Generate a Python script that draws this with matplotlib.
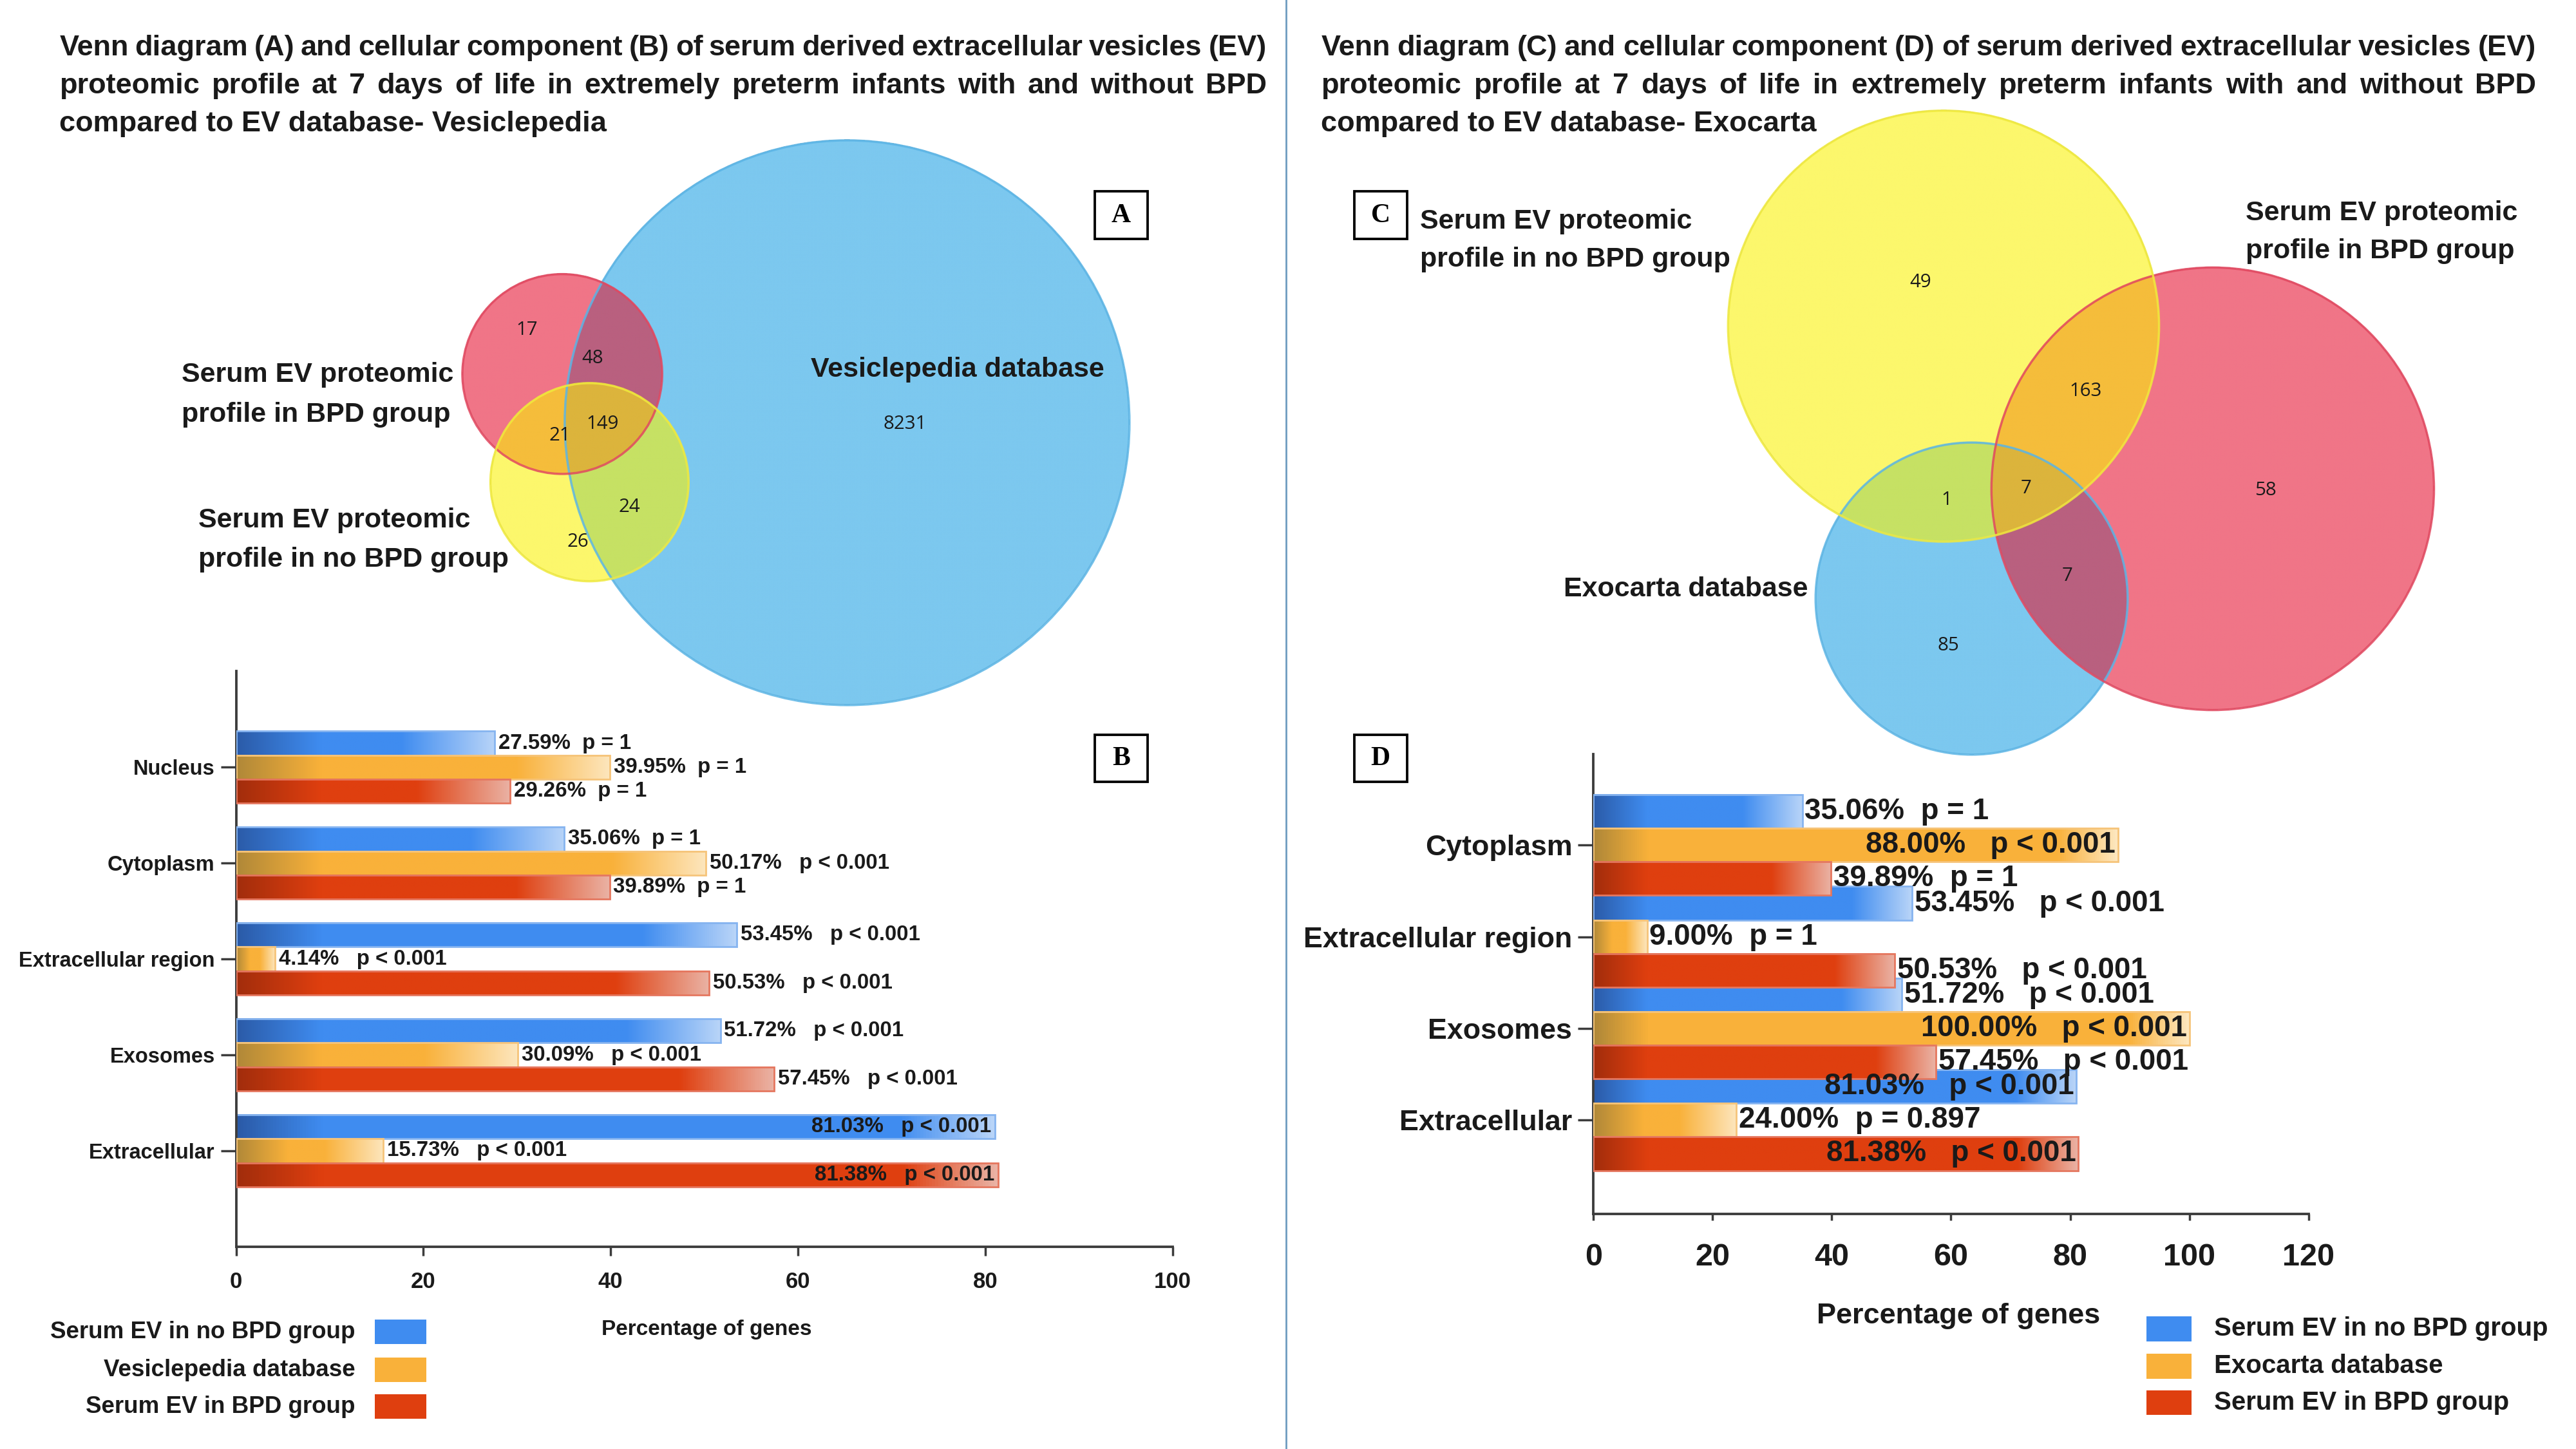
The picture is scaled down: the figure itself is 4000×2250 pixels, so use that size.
import numpy as np
import matplotlib
matplotlib.use("Agg")
import matplotlib.pyplot as plt
from matplotlib import font_manager
from matplotlib.colors import LinearSegmentedColormap, to_rgba
from matplotlib.patches import Circle, Rectangle

# ---- data ----
b_categories = ["Nucleus", "Cytoplasm", "Extracellular region", "Exosomes", "Extracellular"]
b_no_bpd = [27.59, 35.06, 53.45, 51.72, 81.03]
b_vesiclepedia = [39.95, 50.17, 4.14, 30.09, 15.73]
b_bpd = [29.26, 39.89, 50.53, 57.45, 81.38]
b_p_no_bpd = ["p = 1", "p = 1", "p < 0.001", "p < 0.001", "p < 0.001"]
b_p_vesiclepedia = ["p = 1", "p < 0.001", "p < 0.001", "p < 0.001", "p < 0.001"]
b_p_bpd = ["p = 1", "p = 1", "p < 0.001", "p < 0.001", "p < 0.001"]
b_legend = ["Serum EV in no BPD group", "Vesiclepedia database", "Serum EV in BPD group"]

d_categories = ["Cytoplasm", "Extracellular region", "Exosomes", "Extracellular"]
d_no_bpd = [35.06, 53.45, 51.72, 81.03]
d_exocarta = [88.00, 9.00, 100.00, 24.00]
d_bpd = [39.89, 50.53, 57.45, 81.38]
d_p_no_bpd = ["p = 1", "p < 0.001", "p < 0.001", "p < 0.001"]
d_p_exocarta = ["p < 0.001", "p = 1", "p < 0.001", "p = 0.897"]
d_p_bpd = ["p = 1", "p < 0.001", "p < 0.001", "p < 0.001"]
d_legend = ["Serum EV in no BPD group", "Exocarta database", "Serum EV in BPD group"]

# venn region counts, keyed by membership (bit0 = database, bit1 = BPD, bit2 = no BPD)
venn_a_counts = {2: 17, 3: 48, 6: 21, 7: 149, 5: 24, 4: 26, 1: 8231}
venn_c_counts = {4: 49, 6: 163, 5: 1, 7: 7, 3: 7, 2: 58, 1: 85}

title_a = ["Venn diagram (A) and cellular component (B) of serum derived extracellular vesicles (EV)",
           "proteomic profile at 7 days of life in extremely preterm infants with and without BPD",
           "compared to EV database- Vesiclepedia"]
title_c = ["Venn diagram (C) and cellular component (D) of serum derived extracellular vesicles (EV)",
           "proteomic profile at 7 days of life in extremely preterm infants with and without BPD",
           "compared to EV database- Exocarta"]

# ---- style ----
names = {f.name for f in font_manager.fontManager.ttflist}
FONT = "Liberation Sans Narrow" if "Liberation Sans Narrow" in names else "Liberation Sans"
plt.rcParams["font.family"] = [FONT, "DejaVu Sans"]
NUMFONT = ["Open Sans", "DejaVu Sans"]
TXT = "#1a1a1a"

BLUE = ("#2b5ba8", "#3f8cf0", "#b8d4f8", "#86b4f0")
ORANGE = ("#b08838", "#f9b13a", "#fde6bd", "#f6c47a")
RED = ("#a22d0c", "#df3f0f", "#eab2a4", "#e5775f")

region_colors = {1: "#7cc8ef", 2: "#f07587", 4: "#fcf76c", 3: "#b9607f",
                 5: "#c6e164", 6: "#f5bd3b", 7: "#dcb43c"}
edge_colors = ["#5bb5e6", "#e2475f", "#f0ea3c"]

W, H = 1560, 877.5
fig = plt.figure(figsize=(16, 9), dpi=250)
ov = fig.add_axes([0, 0, 1, 1])
ov.set_xlim(0, W)
ov.set_ylim(H, 0)
ov.axis("off")


def venn(ax, circles, counts, spots, x0, x1, y0, y1):
    xs = np.linspace(x0, x1, int((x1 - x0) * 3))
    ys = np.linspace(y0, y1, int((y1 - y0) * 3))
    X, Y = np.meshgrid(xs, ys)
    code = np.zeros(X.shape, int)
    for k, (cx, cy, r) in enumerate(circles):
        code |= (((X - cx) ** 2 + (Y - cy) ** 2) <= r ** 2).astype(int) << k
    img = np.zeros(X.shape + (4,))
    for c, col in region_colors.items():
        img[code == c] = to_rgba(col)
    ax.imshow(img, extent=[x0, x1, y1, y0], origin="upper", interpolation="bilinear",
              aspect="auto", zorder=1)
    for k, (cx, cy, r) in enumerate(circles):
        ax.add_patch(Circle((cx, cy), r, fill=False, ec=edge_colors[k], lw=1.0, alpha=0.85, zorder=2))
    for key, n in counts.items():
        ax.text(*spots[key], str(n), fontsize=8.5, family=NUMFONT, color=TXT,
                ha="center", va="center", zorder=3)


# Venn A: database, BPD, no BPD
venn(ov, [(513, 256, 171), (340.5, 226.5, 60.5), (357, 292, 60)], venn_a_counts,
     {2: (319, 200), 3: (359, 217), 6: (339, 264), 7: (365, 257), 5: (381, 307),
      4: (350, 328), 1: (548, 257)}, 270, 695, 75, 435)
# Venn C
venn(ov, [(1194, 362.5, 94.5), (1340, 296, 134), (1177, 197.5, 130.5)], venn_c_counts,
     {4: (1163, 171), 6: (1263, 237), 5: (1179, 303), 7: (1227, 296), 3: (1252, 349),
      2: (1372, 297), 1: (1180, 391)}, 1035, 1485, 55, 470)

ov.set_xlim(0, W)
ov.set_ylim(H, 0)

lab = dict(fontsize=12.4, fontweight="bold", color=TXT, va="center", zorder=4)
ov.text(110, 227, "Serum EV proteomic", ha="left", **lab)
ov.text(110, 251, "profile in BPD group", ha="left", **lab)
ov.text(120, 315, "Serum EV proteomic", ha="left", **lab)
ov.text(120, 339, "profile in no BPD group", ha="left", **lab)
ov.text(580, 224, "Vesiclepedia database", ha="center", **lab)
ov.text(860, 134, "Serum EV proteomic", ha="left", **lab)
ov.text(860, 157, "profile in no BPD group", ha="left", **lab)
ov.text(1360, 129, "Serum EV proteomic", ha="left", **lab)
ov.text(1360, 152, "profile in BPD group", ha="left", **lab)
ov.text(947, 357, "Exocarta database", ha="left", **lab)

# panel boxes
for letter, (bx, by) in {"A": (663, 116), "B": (663, 445), "C": (820, 116), "D": (820, 445)}.items():
    ov.add_patch(Rectangle((bx, by), 32, 28.5, fill=True, fc="white", ec="black", lw=1.1, zorder=5))
    ov.text(bx + 16, by + 14.5, letter, fontsize=12, fontweight="bold", family="Liberation Serif",
            ha="center", va="center", zorder=6)

# divider
ov.plot([779, 779], [0, H], color="#6e9cc0", lw=0.8, zorder=1)

# titles, justified like the original
renderer = fig.canvas.get_renderer()
scale = fig.bbox.width / W


def justified(lines, x0, x1, ys, size):
    for i, (line, y) in enumerate(zip(lines, ys)):
        if i == len(lines) - 1:
            ov.text(x0, y, line, fontsize=size, fontweight="bold", color=TXT, va="center")
            continue
        words = line.split()
        ts = [ov.text(0, y, w, fontsize=size, fontweight="bold", color=TXT, va="center") for w in words]
        ws = [t.get_window_extent(renderer).width / scale for t in ts]
        gap = (x1 - x0 - sum(ws)) / (len(ws) - 1)
        x = x0
        for t, w in zip(ts, ws):
            t.set_x(x)
            x += w + gap


justified(title_a, 36, 767, [29, 52, 75], 13)
justified(title_c, 800, 1536, [29, 52, 75], 13)


def grad_bar(ax, y, w, h, col, z, fd, fl):
    dark, base, light, edge = col
    a = min(0.35, fd / w)
    b = max(a + 0.01, 1 - min(0.4, fl / w))
    cmap = LinearSegmentedColormap.from_list("g", [(0, dark), (a, base), (b, base), (1, light)])
    ax.imshow(np.linspace(0, 1, 256)[None, :], extent=[0, w, y - h / 2, y + h / 2], origin="lower",
              aspect="auto", cmap=cmap, interpolation="bilinear", zorder=z)
    ax.barh(y, w, height=h, color="none", edgecolor=edge, linewidth=0.8, zorder=z + 0.2)


def bar_panel(rect, cats, series, pvals, xmax, h, ylim, sizes, fd, fl):
    ax = fig.add_axes(rect)
    ax.set_facecolor("none")
    n = len(cats)
    z = 2
    for i in reversed(range(n)):
        yc = n - 1 - i
        for s, (vals, ps, col) in enumerate(zip(series, pvals, [BLUE, ORANGE, RED])):
            y = yc + h * (1 - s)
            v = vals[i]
            grad_bar(ax, y, v, h, col, z, fd, fl)
            sep = "   " if "<" in ps[i] else "  "
            label = f"{v:.2f}%{sep}{ps[i]}"
            if v > 80:
                ax.text(v - 0.4, y, label, ha="right", va="center", fontsize=sizes[0],
                        fontweight="bold", color=TXT, zorder=50)
            else:
                ax.text(v + 0.4, y, label, ha="left", va="center", fontsize=sizes[0],
                        fontweight="bold", color=TXT, zorder=50)
            z += 1
    ax.set_xlim(0, xmax)
    ax.set_ylim(*ylim)
    ax.set_xticks(np.arange(0, xmax + 1, 20))
    ax.set_yticks(range(n))
    ax.set_yticklabels(cats[::-1])
    for sp in ["top", "right"]:
        ax.spines[sp].set_visible(False)
    for sp in ["left", "bottom"]:
        ax.spines[sp].set_color("#3c3c3c")
        ax.spines[sp].set_linewidth(1.1)
    ax.tick_params(axis="y", length=7, width=1.0, color="#3c3c3c", pad=2.5, labelsize=sizes[1])
    ax.tick_params(axis="x", length=sizes[3], width=1.0, color="#3c3c3c", pad=sizes[4], labelsize=sizes[2])
    for t in ax.get_xticklabels() + ax.get_yticklabels():
        t.set_fontweight("bold")
        t.set_color(TXT)
    return ax


bar_panel([143 / W, 1 - 755 / H, (710 - 143) / W, (755 - 406.5) / H], b_categories,
          [b_no_bpd, b_vesiclepedia, b_bpd], [b_p_no_bpd, b_p_vesiclepedia, b_p_bpd],
          100, 0.25, (-1.0, 5.0), (9.5, 9.4, 10, 4, 7), 9, 10)
bar_panel([965 / W, 1 - 735 / H, (1398 - 965) / W, (735 - 456.8) / H], d_categories,
          [d_no_bpd, d_exocarta, d_bpd], [d_p_no_bpd, d_p_exocarta, d_p_bpd],
          120, 0.366, (-1.02, 3.99), (13.2, 12.9, 14, 3, 10), 9, 10)

ov.text(428, 805, "Percentage of genes", fontsize=9.6, fontweight="bold", color=TXT, ha="center", va="center")
ov.text(1186, 797, "Percentage of genes", fontsize=13, fontweight="bold", color=TXT, ha="center", va="center")

# legends
for name, col, y in zip(b_legend, [BLUE, ORANGE, RED], [806.6, 829.6, 851.8]):
    ov.add_patch(Rectangle((227, y - 7.5), 31, 15, fc=col[1], ec="none", zorder=4))
    ov.text(215, y, name, fontsize=10.6, fontweight="bold", color=TXT, ha="right", va="center")
for name, col, y in zip(d_legend, [BLUE, ORANGE, RED], [804.7, 827.3, 849.5]):
    ov.add_patch(Rectangle((1300, y - 7.5), 27, 15, fc=col[1], ec="none", zorder=4))
    ov.text(1341, y, name, fontsize=11.6, fontweight="bold", color=TXT, ha="left", va="center")

fig.savefig("out.png", dpi=250)
